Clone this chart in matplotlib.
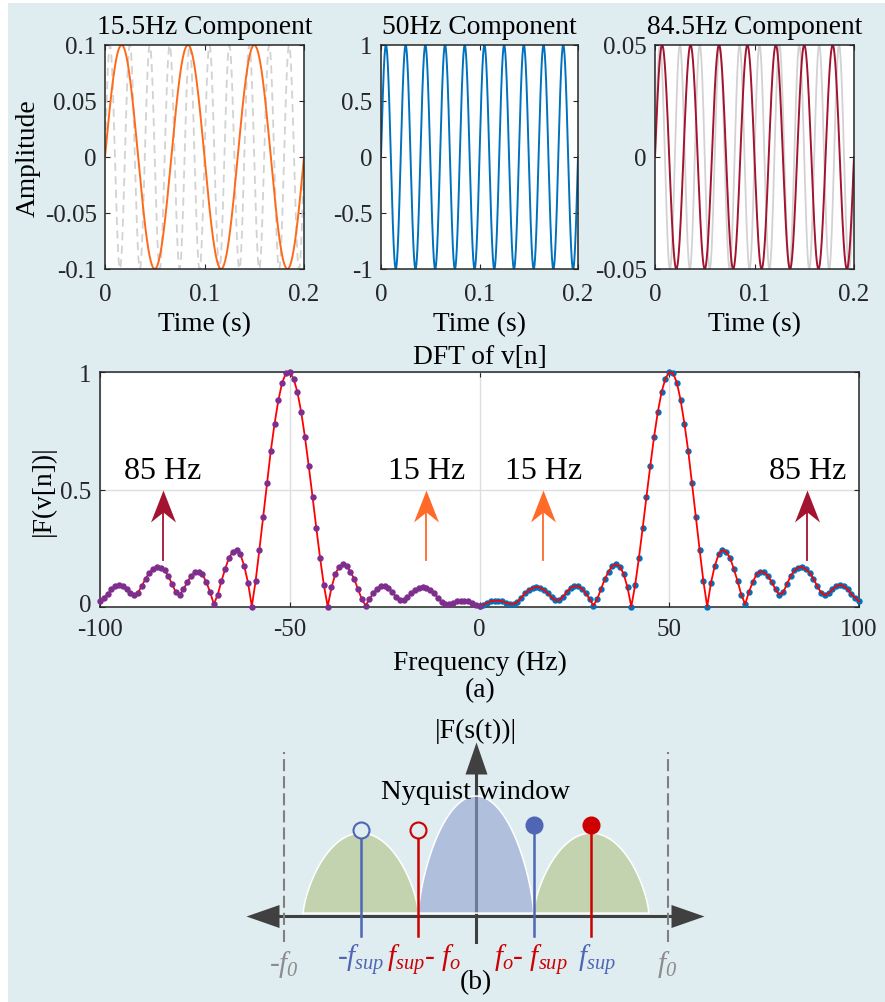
import matplotlib
matplotlib.use("Agg")
import matplotlib.pyplot as plt
import matplotlib.transforms as mtransforms
import numpy as np
from matplotlib.path import Path
from matplotlib.patches import Rectangle

plt.rcParams['font.family'] = ['Liberation Serif', 'DejaVu Serif']
plt.rcParams['mathtext.fontset'] = 'custom'
plt.rcParams['mathtext.it'] = 'Liberation Serif:italic'
plt.rcParams['mathtext.rm'] = 'Liberation Serif:italic'   # digits in the f0 labels are italic too
plt.rcParams['axes.unicode_minus'] = False

bg = '#dfedf1'
axcol = '#262626'

# ---- top row: the three components (freq / amplitude)
comp_titles = ['15.5Hz Component', '50Hz Component', '84.5Hz Component']
comp_freq = [15, 50, 35]
comp_amp = [0.1, 1.0, 0.05]
comp_color = ['#ff6a1a', '#0072bd', '#a2142f']
ref_freq = [50, None, 50]          # light gray curve behind
ref_amp = [0.1, None, 0.05]
ref_ls = ['--', None, '-']
comp_yticks = [[-0.1, -0.05, 0, 0.05, 0.1], [-1, -0.5, 0, 0.5, 1], [-0.05, 0, 0.05]]
comp_yticklabels = [['-0.1', '-0.05', '0', '0.05', '0.1'],
                    ['-1', '-0.5', '0', '0.5', '1'],
                    ['-0.05', '0', '0.05']]
time_ticks = [0, 0.1, 0.2]
time_ticklabels = ['0', '0.1', '0.2']
t_end = 0.2

# ---- middle: DFT magnitude, 1 Hz bins (spectrum is symmetric)
freq_pos = np.arange(0, 101)
mag_pos = np.array([
    0.003, 0.010, 0.018, 0.024, 0.027, 0.027, 0.024, 0.018, 0.013, 0.013,
    0.022, 0.040, 0.058, 0.072, 0.081, 0.085, 0.082, 0.073, 0.058, 0.041,
    0.029, 0.029, 0.044, 0.064, 0.081, 0.089, 0.089, 0.078, 0.058, 0.034,
    0.006, 0.033, 0.075, 0.118, 0.150, 0.175, 0.182, 0.172, 0.140, 0.083,
    0.002, 0.092, 0.208, 0.336, 0.470, 0.600, 0.724, 0.831, 0.916, 0.972,
    1.000, 0.995, 0.955, 0.880, 0.780, 0.664, 0.526, 0.385, 0.244, 0.110,
    0.002, 0.104, 0.175, 0.224, 0.243, 0.235, 0.210, 0.163, 0.110, 0.052,
    0.012, 0.064, 0.106, 0.139, 0.151, 0.147, 0.132, 0.106, 0.075, 0.053,
    0.062, 0.097, 0.132, 0.156, 0.168, 0.170, 0.160, 0.146, 0.120, 0.089,
    0.061, 0.050, 0.058, 0.075, 0.089, 0.093, 0.089, 0.075, 0.054, 0.040,
    0.025])
freq_neg = -freq_pos[::-1]
mag_neg = mag_pos[::-1]

arrow_freq = [-83.5, -14.0, 16.8, 86.4]
arrow_color = ['#a2142f', '#ff6a29', '#ff6a29', '#a2142f']
arrow_text = ['85 Hz', '15 Hz', '15 Hz', '85 Hz']
arrow_tip = 0.50
arrow_bottom = 0.20
arrow_text_y = 0.58

# ---- bottom: schematic (units: f0 = 1)
lobe_center = [-0.6, 0.0, 0.6]
lobe_height = [0.417, 0.61, 0.417]
lobe_color = ['#b3c384', '#90a1cf', '#b3c384']
lobe_halfwidth = 0.3
lobe_base = 0.015
stem_x = [-0.6, -0.3, 0.3, 0.6]
stem_top = [0.448, 0.448, 0.474, 0.474]
stem_color = ['#4f66b5', '#cc0000', '#4f66b5', '#cc0000']
stem_filled = [False, False, True, True]
stem_bottom = -0.104
f0 = 1.0
tick_labels = [r'-$f_0$', r'-$f_{sup}$', r'$f_{sup}$- $f_o$', r'$f_o$- $f_{sup}$',
               r'$f_{sup}$', r'$f_0$']
tick_label_x = [-1.0, -0.6, -0.27, 0.287, 0.63, 0.995]
tick_label_y = [-0.25, -0.224, -0.224, -0.224, -0.224, -0.25]
tick_label_col = ['#8c8c8c', '#4f66b5', '#cc0000', '#cc0000', '#4f66b5', '#8c8c8c']


def head(length, width, notch=0.0, angle=0):
    # arrow head marker with its tip at the data point
    v = np.array([[0, 0], [-width / 2, -length], [0, -length + notch],
                  [width / 2, -length], [0, 0]], float)
    a = np.deg2rad(angle)
    r = np.array([[np.cos(a), -np.sin(a)], [np.sin(a), np.cos(a)]])
    v = v @ r.T
    return Path(v, [Path.MOVETO, Path.LINETO, Path.LINETO, Path.LINETO, Path.CLOSEPOLY])


def ms_for(length, width):
    # marker size (pt) so that the longest side comes out in pixels as given
    return 2 * max(length, width) * 0.72


def style_ax(ax, xpad=6):
    for s in ax.spines.values():
        s.set_color(axcol)
        s.set_linewidth(1.1)
    ax.tick_params(direction='in', length=3.5, width=0.8, colors=axcol,
                   labelsize=18, top=True, right=True, pad=6)
    ax.tick_params(axis='x', pad=xpad)
    for lab in ax.get_xticklabels() + ax.get_yticklabels():
        lab.set_color('#262626')


fig = plt.figure(figsize=(8.85, 10.03), dpi=100, facecolor='white')
fig.patches.append(Rectangle((8 / 885, 0), 1, 1 - 4 / 1003, transform=fig.transFigure,
                             facecolor=bg, edgecolor='none', zorder=-10))

lefts = [105 / 885, 381 / 885, 655 / 885]
widths = [199 / 885, 197 / 885, 199 / 885]
t = np.linspace(0, t_end, 3001)
for i in range(3):
    ax = fig.add_axes([lefts[i], 1 - 270 / 1003, widths[i], 224 / 1003])
    if ref_freq[i] is not None:
        ln, = ax.plot(t, ref_amp[i] * np.sin(2 * np.pi * ref_freq[i] * t),
                      color='#d2d2d2', lw=1.3, ls=ref_ls[i])
        if ref_ls[i] == '--':
            ln.set_dashes((4.5, 3.0))
    ax.plot(t, comp_amp[i] * np.sin(2 * np.pi * comp_freq[i] * t),
            color=comp_color[i], lw=1.4)
    ax.set_xlim(0, t_end)
    ax.set_ylim(-comp_amp[i], comp_amp[i])
    ax.set_xticks(time_ticks, time_ticklabels)
    ax.set_yticks(comp_yticks[i], comp_yticklabels[i])
    ax.set_title(comp_titles[i], fontsize=19.8, pad=8.5)
    ax.set_xlabel('Time (s)', fontsize=19.8, labelpad=4.5)
    if i == 0:
        ax.set_ylabel('Amplitude', fontsize=19.8, labelpad=3)
    style_ax(ax, xpad=10)

# middle plot
axm = fig.add_axes([100 / 885, 1 - 608 / 1003, 759 / 885, 235 / 1003])
axm.set_xlim(-100, 100)
axm.set_ylim(0, 1)
axm.set_xticks([-100, -50, 0, 50, 100], ['-100', '-50', '0', '50', '100'])
axm.set_yticks([0, 0.5, 1], ['0', '0.5', '1'])
axm.grid(True, color='#dedede', lw=1.0)
axm.set_axisbelow(True)
axm.plot(freq_pos, mag_pos, 'o', color='#0072bd', ms=4.6, mew=0, zorder=3, clip_on=False)
axm.plot(np.r_[freq_neg, freq_pos[1:]], np.r_[mag_neg, mag_pos[1:]],
         color='#ff0000', lw=1.3, zorder=4, clip_on=False)
axm.plot(freq_neg, mag_neg, 'o', color='#7e2f8e', ms=4.6, mew=0, zorder=5, clip_on=False)

hd = head(32, 25, notch=10)
for fx, col, txt in zip(arrow_freq, arrow_color, arrow_text):
    axm.plot([fx, fx], [arrow_bottom, arrow_tip - 0.1], color=col, lw=1.3, zorder=6)
    axm.plot(fx, arrow_tip, marker=hd, ms=ms_for(32, 25), color=col, mew=0, zorder=6)
    axm.text(fx, arrow_text_y, txt, fontsize=23, ha='center', va='center', zorder=7)
axm.set_title('DFT of v[n]', fontsize=19.8, pad=6.5)
axm.set_xlabel('Frequency (Hz)', fontsize=19.8, labelpad=7)
axm.set_ylabel('|F(v[n])|', fontsize=19.8, labelpad=3)
style_ax(axm, xpad=8)
# nudge the "0" y label up a little so it clears "-100"
lab0 = axm.get_yticklabels()[0]
lab0.set_transform(lab0.get_transform() +
                   mtransforms.ScaledTranslation(0, 3 / 72, fig.dpi_scale_trans))
fig.text(480 / 885, 1 - 691 / 1003, '(a)', fontsize=19.8, ha='center', va='center')

# bottom schematic
axb = fig.add_axes([0, 0, 1, 303 / 1003])
axb.set_xlim(-476 / 192, 409 / 192)
axb.set_ylim(-86 / 192, 217 / 192)
axb.axis('off')
axb.patch.set_alpha(0)

u = np.linspace(-1, 1, 301)
for c, h, col in zip(lobe_center, lobe_height, lobe_color):
    xs = c + lobe_halfwidth * u
    ys = lobe_base + h * (1 - u ** 2) ** 0.7
    axb.fill_between(xs, lobe_base, ys, facecolor=col, alpha=0.6, edgecolor='none', zorder=3)
    axb.plot(np.r_[xs, xs[0]], np.r_[ys, lobe_base], color='white', lw=1.1, zorder=3.5)

axc = '#404040'
axb.plot([-1.2 + 0.1, 1.19 - 0.1], [0, 0], color=axc, lw=2.2, zorder=2)
axb.plot(1.19, 0, marker=head(33, 23, angle=-90), ms=ms_for(33, 23), color=axc, mew=0, zorder=2)
axb.plot(-1.2, 0, marker=head(33, 23, angle=90), ms=ms_for(33, 23), color=axc, mew=0, zorder=2)
axb.plot([0, 0], [-0.135, 0.85], color=axc, lw=2.2, zorder=2)
axb.plot(0, 0.906, marker=head(32, 22), ms=ms_for(32, 22), color=axc, mew=0, zorder=2)

for xv in (-f0, f0):
    ln, = axb.plot([xv, xv], [-0.135, 0.854], color='#808080', lw=1.5, zorder=2)
    ln.set_dashes((5.8, 2.4))

for x, top, col, filled in zip(stem_x, stem_top, stem_color, stem_filled):
    axb.plot([x, x], [stem_bottom, top], color=col, lw=1.8, zorder=5)
    axb.plot(x, top, 'o', ms=11.5, mew=1.5, mec=col,
             mfc=col if filled else bg, zorder=6)

axb.text(0, 0.964, '|F(s(t))|', fontsize=20, ha='center', va='center')
axb.text(0, 0.646, 'Nyquist window', fontsize=20.5, ha='center', va='center', zorder=7)
for lab, x, y, col in zip(tick_labels, tick_label_x, tick_label_y, tick_label_col):
    axb.text(x, y, lab, fontsize=21, color=col, ha='center', va='center')
axb.text(0, -0.344, '(b)', fontsize=19.8, ha='center', va='center')

fig.savefig('out.png', dpi=100, facecolor='white')
